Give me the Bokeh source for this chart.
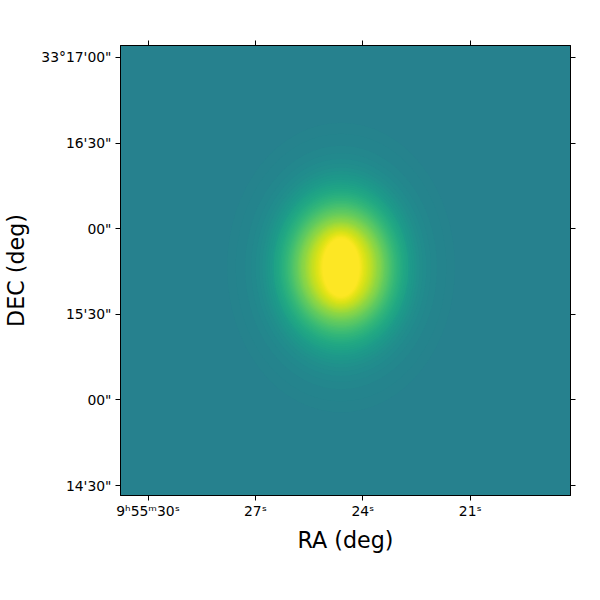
from bokeh.embed import file_html
from bokeh.resources import INLINE
from bokeh.plotting import figure
from bokeh.models import LinearAxis, LinearColorMapper, FixedTicker, Range1d, ColumnDataSource
from bokeh.palettes import Viridis256

# --- axes ---
ra_seconds = [30, 27, 24, 21]
ra_labels = ["9ʰ55ᵐ30ˢ", "27ˢ", "24ˢ", "21ˢ"]
dec_arcsec = [1020, 990, 960, 930, 900, 870]
dec_labels = ["33°17'00\"", "16'30\"", "00\"", "15'30\"", "00\"", "14'30\""]
ra_span = (30.77, 18.20)
dec_span = (866.5, 1024.2)
x_title = "RA (deg)"
y_title = "DEC (deg)"

# --- the source, as isophotes ---
flux_low = -0.786
flux_high = 1.0
sky_flux = 0.0
source_ra = 24.61
source_dec = 946.4
level_flux = [
    .01, .02, .04, .06, .08, .10, .12, .14, .16, .18, .20, .22, .24, .26, .28, .30, .32,
    .34, .36, .38, .40, .42, .44, .46, .48, .50, .52, .54, .56, .58, .60, .62, .64, .66,
    .68, .70, .72, .74, .76, .78, .80, .82, .84, .86, .88, .90, .92, .94, .96, .98, 1.0,
]
level_width_ra = [
    6.36, 5.88, 5.36, 5.02, 4.77, 4.57, 4.39, 4.24, 4.11, 3.98, 3.86, 3.77,
    3.76, 3.66, 3.57, 3.48, 3.40, 3.32, 3.24, 3.16, 3.09, 3.01, 2.95, 2.87,
    2.81, 2.74, 2.68, 2.61, 2.55, 2.48, 2.42, 2.37, 2.30, 2.24, 2.17, 2.10,
    2.03, 1.97, 1.90, 1.83, 1.77, 1.70, 1.63, 1.56, 1.49, 1.42, 1.33, 1.26,
    1.18, 1.11, 1.04,
]
level_height_dec = [
    101.5, 93.81, 85.41, 80.07, 76.08, 72.82, 70.05, 67.61, 65.44, 63.46, 61.62, 59.94,
    58.32, 56.81, 55.39, 54.01, 52.69, 51.43, 50.22, 49.03, 47.88, 46.76, 45.67, 44.61,
    43.56, 42.54, 41.52, 40.53, 39.54, 38.55, 37.60, 36.64, 35.68, 34.73, 33.77, 32.82,
    32.1, 31.4, 30.6, 29.8, 29.0, 28.2, 27.3, 26.5, 25.7, 25.0, 24.2, 23.3,
    22.4, 21.5, 20.5,
]

FONT = "DejaVu Sans"

mapper = LinearColorMapper(palette=Viridis256, low=flux_low, high=flux_high)
sky_index = int((sky_flux - flux_low) / (flux_high - flux_low) * len(Viridis256))

p = figure(
    width=584, height=584, output_backend="svg", toolbar_location=None,
    x_range=Range1d(*ra_span), y_range=Range1d(*dec_span),
    frame_width=450, frame_height=450,
    min_border_left=120, min_border_top=45, min_border_right=14, min_border_bottom=89,
    background_fill_color=Viridis256[sky_index], border_fill_color="white",
    outline_line_color="black", outline_line_width=1,
)
p.grid.visible = False

source = ColumnDataSource(dict(
    ra=[source_ra] * len(level_flux),
    dec=[source_dec] * len(level_flux),
    w=level_width_ra,
    h=level_height_dec,
    flux=level_flux,
))
p.ellipse(x="ra", y="dec", width="w", height="h", source=source,
          fill_color={"field": "flux", "transform": mapper}, line_color=None)


def style(ax, ticks, overrides):
    ax.ticker = FixedTicker(ticks=ticks)
    ax.major_label_overrides = overrides
    ax.major_tick_in = 0
    ax.major_tick_out = 5
    ax.minor_tick_in = 0
    ax.minor_tick_out = 0
    ax.major_tick_line_color = "black"
    ax.axis_line_color = "black"
    ax.major_label_text_font = FONT
    ax.major_label_text_font_size = "13.9px"
    ax.major_label_text_color = "black"
    ax.major_label_standoff = 2
    ax.axis_label_text_font = FONT
    ax.axis_label_text_font_style = "normal"
    ax.axis_label_text_font_size = "22.2px"
    ax.axis_label_text_color = "black"


xa = p.xaxis[0]
ya = p.yaxis[0]
style(xa, ra_seconds, dict(zip(ra_seconds, ra_labels)))
style(ya, dec_arcsec, dict(zip(dec_arcsec, dec_labels)))
xa.axis_label = x_title
ya.axis_label = y_title
xa.axis_label_standoff = 5
ya.major_label_standoff = 4
ya.axis_label_standoff = 9

top = LinearAxis()
right = LinearAxis()
style(top, ra_seconds, {t: "" for t in ra_seconds})
style(right, dec_arcsec, {t: "" for t in dec_arcsec})
p.add_layout(top, "above")
p.add_layout(right, "right")

open("out.html", "w").write(file_html(p, INLINE))
